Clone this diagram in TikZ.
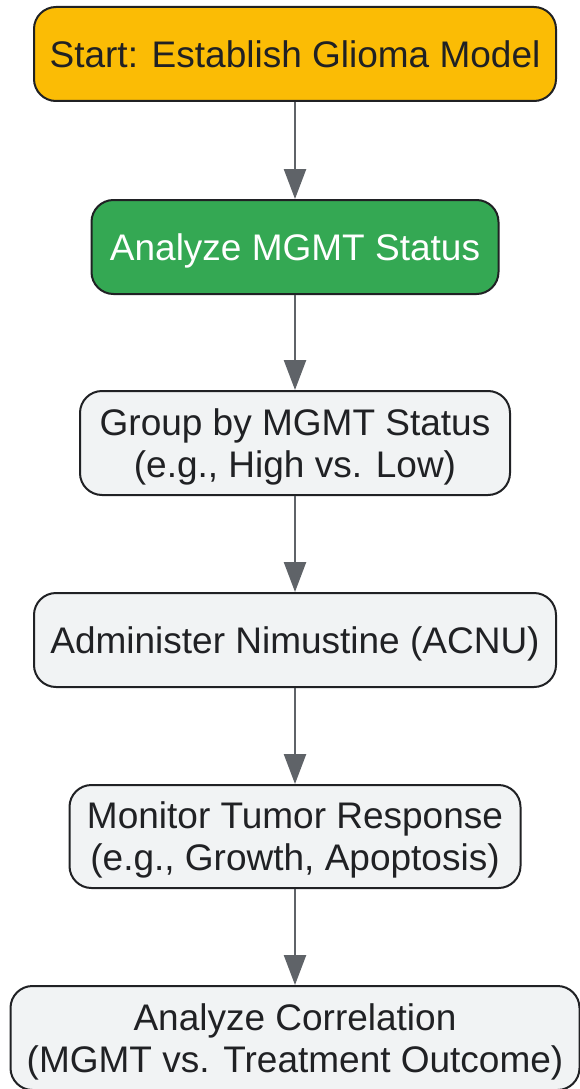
\documentclass[tikz,border=0pt]{standalone}
\usepackage{fontspec}
\setmainfont{Liberation Sans}
\usetikzlibrary{arrows.meta}
\definecolor{startcol}{HTML}{FBBC05}
\definecolor{greencol}{HTML}{34A853}
\definecolor{graycol}{HTML}{F1F3F4}
\definecolor{bordercol}{HTML}{202124}
\definecolor{arrowcol}{HTML}{5F6368}
\tikzset{
  flowbox/.style={draw=bordercol, line width=2pt, rounded corners=22pt, inner sep=0pt,
    align=center, font=\fontsize{37}{42}\selectfont, text=bordercol, fill=graycol,
    text depth=0pt},
  arr/.style={draw=arrowcol, line width=2.5pt, -{Triangle[length=30pt,width=22pt]}}
}
\begin{document}
\begin{tikzpicture}[x=1pt,y=-1pt]
\useasboundingbox (0,0) rectangle (580,1089);
\node[flowbox, fill=startcol, minimum width=522pt, minimum height=94pt] (n1) at (295,54) {Start: Establish Glioma Model};
\node[flowbox, fill=greencol, text=white, minimum width=407pt, minimum height=94pt] (n2) at (295,247) {Analyze MGMT Status};
\node[flowbox, minimum width=430pt, minimum height=104pt] (n3) at (295,443) {Group by MGMT Status\\(e.g., High vs. Low)};
\node[flowbox, minimum width=522pt, minimum height=94pt] (n4) at (295,640) {Administer Nimustine (ACNU)};
\node[flowbox, minimum width=451pt, minimum height=103pt] (n5) at (295,836.5) {Monitor Tumor Response\\(e.g., Growth, Apoptosis)};
\node[flowbox, minimum width=569pt, minimum height=104pt] (n6) at (295,1038) {Analyze Correlation\\(MGMT vs. Treatment Outcome)};
\draw[arr] (n1) -- (n2);
\draw[arr] (n2) -- (n3);
\draw[arr] (n3) -- (n4);
\draw[arr] (n4) -- (n5);
\draw[arr] (n5) -- (n6);
\end{tikzpicture}
\end{document}
